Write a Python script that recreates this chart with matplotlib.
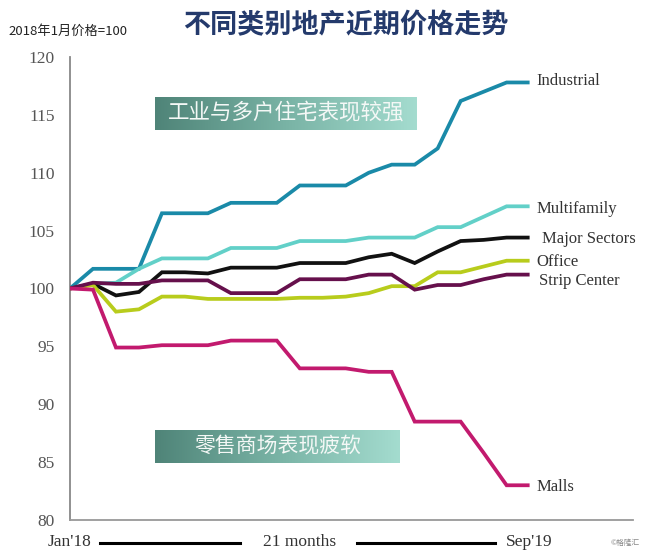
import numpy as np
import matplotlib
matplotlib.use("Agg")
import matplotlib.pyplot as plt
from matplotlib.lines import Line2D
from matplotlib.colors import LinearSegmentedColormap
import matplotlib.transforms as mtransforms

# ---------------- data ----------------
months = list(range(21))  # Jan'18 ... Sep'19
industrial = [100, 101.7, 101.7, 101.7, 106.5, 106.5, 106.5, 107.4, 107.4, 107.4, 108.9,
              108.9, 108.9, 110.0, 110.7, 110.7, 112.1, 116.2, 117.0, 117.8, 117.8]
multifamily = [100, 100.4, 100.5, 101.7, 102.6, 102.6, 102.6, 103.5, 103.5, 103.5, 104.1,
               104.1, 104.1, 104.4, 104.4, 104.4, 105.3, 105.3, 106.2, 107.1, 107.1]
major_sectors = [100, 100.4, 99.4, 99.7, 101.4, 101.4, 101.3, 101.8, 101.8, 101.8, 102.2,
                 102.2, 102.2, 102.7, 103.0, 102.2, 103.2, 104.1, 104.2, 104.4, 104.4]
office = [100, 100.3, 98.0, 98.2, 99.3, 99.3, 99.1, 99.1, 99.1, 99.1, 99.2,
          99.2, 99.3, 99.6, 100.2, 100.2, 101.4, 101.4, 101.9, 102.4, 102.4]
strip_center = [100, 100.5, 100.4, 100.4, 100.7, 100.7, 100.7, 99.6, 99.6, 99.6, 100.8,
                100.8, 100.8, 101.2, 101.2, 99.9, 100.3, 100.3, 100.8, 101.2, 101.2]
malls = [100, 99.9, 94.9, 94.9, 95.1, 95.1, 95.1, 95.5, 95.5, 95.5, 93.1,
         93.1, 93.1, 92.8, 92.8, 88.5, 88.5, 88.5, 85.8, 83.0, 83.0]

series_names = ["Industrial", "Multifamily", "Major Sectors", "Office", "Strip Center", "Malls"]
series_values = [industrial, multifamily, major_sectors, office, strip_center, malls]
series_colors = ["#1a8aa8", "#62d0c8", "#111111", "#b8cc1c", "#66104c", "#c21a6e"]
label_offsets_y = [0.1, -0.25, -0.15, -0.1, -0.55, -0.15]   # small vertical nudges for labels
label_dx = [0.3, 0.3, 0.55, 0.3, 0.4, 0.3]

yticks = [80, 85, 90, 95, 100, 105, 110, 115, 120]

title = "不同类别地产近期价格走势"
subtitle = "2018年1月价格=100"
box_top_text = "工业与多户住宅表现较强"
box_bottom_text = "零售商场表现疲软"
x_start_label = "Jan'18"
x_mid_label = "21 months"
x_end_label = "Sep'19"

cjk = ["Noto Sans CJK SC", "DejaVu Sans"]
serif = ["Liberation Serif", "DejaVu Serif"]

# ---------------- figure ----------------
fig = plt.figure(figsize=(6.5, 5.56), dpi=100)
fig.patch.set_facecolor("white")
ax = fig.add_axes([70 / 650, 1 - 520 / 556, (633 - 70) / 650, (520 - 57) / 556])

draw_order = [1, 3, 2, 4, 0, 5]
for i in draw_order:
    ax.plot(months, series_values[i], color=series_colors[i], lw=2.7,
            solid_joinstyle="miter", solid_capstyle="butt", zorder=3 + i * 0.1)

for i, name in enumerate(series_names):
    ax.text(months[-1] + label_dx[i], series_values[i][-1] + label_offsets_y[i], name,
            family=serif, fontsize=12, color="#333333", va="center", ha="left")

ax.set_xlim(0, 24.5)
ax.set_ylim(80, 120)
ax.set_yticks(yticks)
ax.set_yticklabels([str(t) for t in yticks], family=serif, fontsize=12.5, color="#555555")
ax.set_xticks([])
ax.tick_params(axis="y", length=0, pad=11)
for s in ["top", "right"]:
    ax.spines[s].set_visible(False)
ax.spines["left"].set_color("#888888")
ax.spines["bottom"].set_color("#999999")
ax.spines["left"].set_linewidth(1.3)
ax.spines["bottom"].set_linewidth(1.3)

# ---------------- titles ----------------
fig.text(346 / 650, 1 - 25 / 556, title, family=cjk, fontsize=19.5, fontweight="bold",
         color="#243a6c", ha="center", va="center")
fig.text(8 / 650, 1 - 31 / 556, subtitle, family=cjk, fontsize=9.5, color="#222222",
         ha="left", va="center")

# ---------------- gradient boxes ----------------
cmap = LinearSegmentedColormap.from_list("tealgrad", ["#4f8478", "#79b3a5", "#a4dccf"])
grad = np.linspace(0, 1, 256).reshape(1, -1)


def gradient_box(x0, y0, x1, y1, text, size):
    bax = fig.add_axes([x0 / 650, 1 - y1 / 556, (x1 - x0) / 650, (y1 - y0) / 556])
    bax.imshow(grad, aspect="auto", cmap=cmap, extent=[0, 1, 0, 1])
    bax.set_xlim(0, 1)
    bax.set_ylim(0, 1)
    bax.axis("off")
    bax.text(0.5, 0.5, text, family=cjk, fontsize=size, color="#f4f8f6",
             ha="center", va="center", transform=bax.transAxes)


gradient_box(155, 97, 417, 130, box_top_text, 15.5)
gradient_box(155, 430, 400, 463, box_bottom_text, 15)

# ---------------- bottom time annotation ----------------
trans = mtransforms.blended_transform_factory(ax.transData, fig.transFigure)
ybot = 1 - 542 / 556
ax.text(0, ybot, x_start_label, transform=trans, family=serif, fontsize=12.5,
        color="#333333", ha="center", va="center", clip_on=False)
ax.text(10, ybot, x_mid_label, transform=trans, family=serif, fontsize=12.5,
        color="#333333", ha="center", va="center", clip_on=False)
ax.text(20, ybot, x_end_label, transform=trans, family=serif, fontsize=12.5,
        color="#333333", ha="center", va="center", clip_on=False)
yl = 1 - 543 / 556
fig.add_artist(Line2D([100 / 650, 240 / 650], [yl, yl], color="black", lw=2.2,
                      transform=fig.transFigure))
fig.add_artist(Line2D([357 / 650, 495 / 650], [yl, yl], color="black", lw=2.2,
                      transform=fig.transFigure))

fig.text(625 / 650, 1 - 543 / 556, "©格隆汇", family=cjk, fontsize=5.5, color="#888888",
         ha="center", va="center")

fig.savefig("out.png", dpi=100, facecolor="white")
